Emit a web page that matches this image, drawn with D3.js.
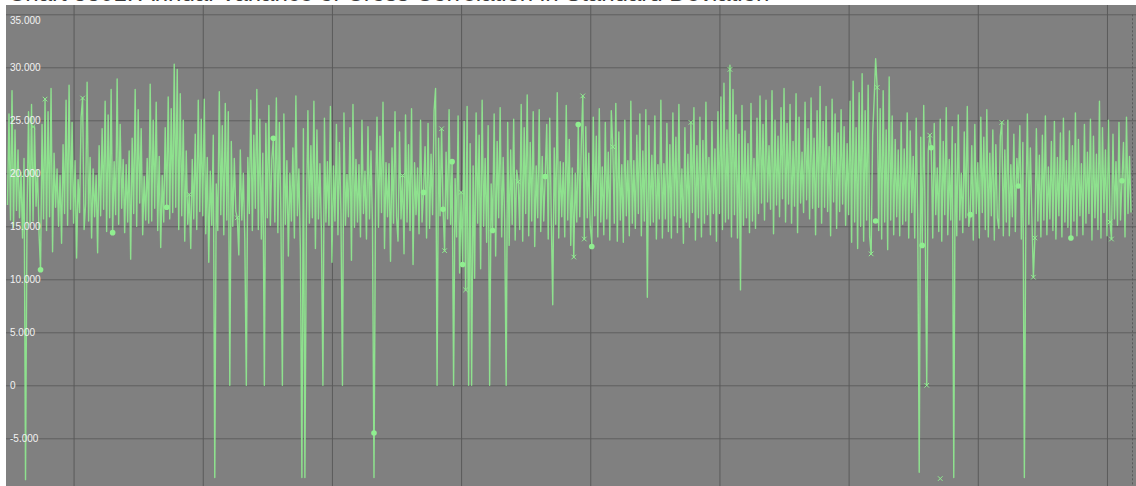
<!DOCTYPE html>
<html>
<head>
<meta charset="utf-8">
<script src="https://cdn.jsdelivr.net/npm/d3@7"></script>
<style>
  html, body { margin: 0; padding: 0; background: #fff; overflow: hidden; }
  svg { display: block; font-family: "Liberation Sans", Arial, sans-serif; }
</style>
</head>
<body>
<svg id="chart" width="1136" height="486"></svg>
<script>
// Series values, in thousands (one entry per sample)
const seriesK = [
  17.0, 25.6, 15.6, 27.8, 14.9, 24.1, 16.5, 22.2, 15.8, 20.1, 13.9, 21.4, -8.9, 16.1, 25.8, 15.2, 26.5, 15.5, 24.4, 16.9,
  20.3, 14.3, 10.9, 24.6, 15.7, 27.0, 14.6, 25.8, 15.9, 28.0, 12.6, 21.9, 16.8, 20.4, 15.0, 19.8, 13.4, 22.7, 16.2, 26.9,
  15.1, 28.3, 16.6, 24.8, 15.3, 21.2, 12.0, 19.4, 16.3, 25.3, 27.1, 14.7, 17.1, 28.6, 15.5, 21.5, 13.9, 20.4, 15.9, 19.8,
  12.5, 22.6, 16.0, 24.2, 16.6, 26.8, 14.5, 25.5, 15.8, 27.9, 14.4, 21.1, 16.1, 28.9, 15.2, 24.6, 16.7, 21.3, 14.4, 20.8,
  15.4, 22.1, 11.9, 23.3, 16.2, 27.9, 15.0, 26.0, 17.2, 24.2, 14.2, 19.7, 15.6, 21.4, 15.3, 28.4, 15.5, 25.0, 16.7, 26.7,
  14.6, 21.6, 13.0, 19.8, 15.4, 24.3, 16.8, 27.2, 15.7, 26.1, 16.3, 30.3, 16.8, 29.8, 14.7, 27.5, 16.0, 25.0, 13.6, 22.1,
  15.2, 18.0, 12.9, 21.3, 15.7, 23.7, 14.7, 26.9, 16.4, 25.1, 16.0, 27.0, 14.3, 21.5, 11.6, 20.2, 15.1, 23.6, -8.7, 19.0,
  14.6, 27.7, 16.1, 24.5, 14.2, 26.6, 15.6, 25.8, 0, 23.0, 15.0, 21.4, 16.4, 15.8, 12.3, 22.2, 15.6, 20.0, 13.7, 0,
  21.5, 16.2, 26.9, 14.6, 23.6, 16.7, 27.9, 14.7, 25.1, 13.8, 21.9, 0, 24.7, 15.8, 26.4, 15.1, 21.3, 23.3, 15.4, 27.1,
  14.4, 24.8, 16.3, 0, 25.6, 15.2, 21.2, 12.2, 20.0, 15.5, 22.4, 13.9, 27.3, 16.0, 20.4, 12.7, -8.7, 24.2, -8.7, 15.6,
  25.9, 15.3, 22.6, 15.8, 26.8, 12.9, 24.1, 15.7, 20.9, 14.5, 0, 25.2, 15.4, 21.1, 15.1, 26.3, 11.6, 20.7, 15.5, 24.6,
  14.2, 22.9, 16.2, 0, 25.7, 15.1, 19.9, 15.9, 24.3, 11.8, 26.5, 14.9, 21.3, 15.4, 20.8, 14.0, 25.0, 16.2, 20.2, 13.8,
  24.4, 15.7, 22.1, 15.1, -8.7, 17.0, 25.3, 14.9, 23.5, 16.3, 26.7, 12.9, 21.0, 15.9, 20.9, 11.7, 22.4, 15.3, 25.8, 15.9,
  13.6, 23.9, 15.7, 19.8, 12.4, 25.5, 15.4, 22.7, 14.6, 26.1, 11.4, 21.0, 16.1, 20.5, 14.3, 25.0, 15.4, 18.2, 22.5, 13.9,
  24.7, 14.8, 21.8, 16.1, 25.9, 28.0, 0, 23.3, 16.0, 24.2, 16.6, 12.7, 22.0, 15.7, 26.0, 15.2, 21.1, 0, 19.5, 14.0,
  25.4, 10.6, 18.2, 11.4, 24.9, 9.0, 26.3, 0, 22.8, 0, 20.7, 10.1, 25.7, 15.3, 23.6, 11.0, 26.9, 15.0, 21.4, 13.5,
  24.5, 0, 19.0, 14.6, 25.6, 12.2, 23.0, 15.8, 26.2, 14.0, 21.5, 15.6, 0, 24.8, 13.2, 22.2, 15.2, 25.1, 13.7, 20.3,
  19.2, 14.7, 26.5, 13.6, 24.3, 16.2, 27.4, 14.1, 22.9, 15.5, 25.8, 13.1, 20.7, 15.8, 26.0, 14.5, 21.6, 15.5, 19.7, 24.6,
  13.8, 25.2, 16.1, 7.6, 22.4, 15.2, 27.6, 13.9, 21.1, 15.9, 21.0, 14.0, 26.4, 15.6, 23.2, 13.2, 20.5, 12.1, 20.0, 15.4,
  24.6, 15.9, 22.6, 27.3, 13.8, 24.4, 15.8, 21.9, 15.0, 13.1, 25.3, 16.0, 23.5, 14.0, 26.1, 15.4, 20.6, 14.2, 24.8, 15.7,
  22.0, 13.7, 25.9, 22.5, 15.3, 26.6, 13.6, 23.9, 15.6, 20.8, 13.5, 25.0, 16.0, 21.2, 14.1, 26.8, 15.3, 21.2, 14.8, 23.6,
  16.2, 25.6, 14.1, 22.1, 15.5, 26.0, 8.3, 24.5, 15.1, 21.7, 15.4, 25.4, 13.8, 20.8, 15.7, 26.9, 13.9, 20.9, 15.7, 24.7,
  14.5, 22.7, 13.9, 25.7, 16.0, 23.4, 14.4, 26.5, 15.8, 20.4, 13.4, 24.3, 15.4, 21.8, 14.9, 24.8, 16.3, 26.2, 13.7, 22.6,
  15.8, 25.3, 14.0, 23.1, 15.3, 26.7, 16.1, 21.5, 14.2, 24.9, 16.2, 22.3, 13.6, 25.8, 16.2, 27.2, 14.7, 28.5, 15.4, 24.1,
  15.7, 30.2, 14.0, 27.9, 16.1, 25.5, 13.9, 23.7, 9.0, 26.4, 15.1, 24.0, 15.8, 22.8, 14.4, 26.6, 15.5, 21.4, 14.8, 25.2,
  16.2, 27.3, 17.2, 24.6, 15.6, 26.9, 17.3, 22.6, 16.6, 27.8, 14.3, 25.0, 17.0, 23.5, 15.9, 26.2, 17.6, 28.0, 15.4, 24.7,
  17.1, 26.5, 15.3, 23.0, 16.9, 27.5, 14.4, 25.3, 17.2, 22.0, 16.3, 26.7, 17.5, 24.2, 15.7, 27.1, 16.7, 23.3, 14.2, 25.9,
  16.8, 28.2, 15.3, 24.9, 16.8, 26.3, 16.4, 22.5, 14.1, 27.0, 17.3, 25.6, 14.8, 23.8, 16.4, 26.0, 17.1, 24.4, 15.1, 22.8,
  16.1, 26.8, 13.5, 28.7, 15.4, 24.3, 12.9, 27.6, 15.0, 29.4, 13.6, 25.9, 15.6, 28.3, 14.0, 12.4, 23.6, 27.0, 30.8, 28.1,
  14.6, 26.1, 13.8, 27.8, 15.4, 24.1, 12.8, 29.1, 15.6, 25.4, 14.2, 23.2, 15.9, 22.2, 14.1, 24.8, 15.2, 22.3, 15.5, 25.7,
  13.9, 24.0, 16.3, 21.6, 13.9, 25.2, 15.7, -8.2, 23.4, 13.2, 26.4, 14.9, 0, 22.1, 23.6, 22.4, 13.9, 24.7, 16.1, 20.5,
  14.5, 25.1, 13.6, 23.0, 16.1, 26.2, 14.2, 21.3, 15.6, 24.4, -8.7, 22.8, 14.1, 25.5, 15.6, 20.0, 14.4, 23.9, 15.8, 26.3,
  15.0, 16.1, 22.6, 13.7, 24.6, 16.2, 21.0, 13.9, 25.3, 16.3, 23.4, 14.7, 26.0, 14.0, 21.9, 16.0, 24.1, 13.7, 22.7, 15.8,
  14.8, 23.5, 24.8, 14.1, 22.2, 15.4, 25.0, 14.1, 20.8, 15.9, 23.7, 14.5, 21.4, 18.8, 24.5, 13.8, 22.9, -8.7, 16.1, 25.6,
  15.2, 22.4, 15.9, 10.2, 13.9, 24.2, 15.5, 21.7, 14.0, 23.6, 15.6, 25.4, 14.2, 20.6, 15.7, 23.0, 14.6, 24.9, 13.8, 21.5,
  16.0, 23.8, 14.0, 25.2, 15.4, 21.2, 14.9, 24.0, 13.9, 22.6, 15.5, 25.7, 14.1, 23.2, 16.0, 20.9, 14.2, 24.6, 15.3, 22.0,
  16.2, 25.1, 13.7, 23.5, 15.8, 21.8, 14.7, 26.8, 13.9, 24.3, 16.3, 22.2, 14.1, 25.0, 15.4, 13.8, 23.7, 15.7, 21.1, 15.1,
  24.8, 15.6, 19.3, 22.9, 14.0, 25.3, 16.2, 21.6, 16.3
];

// Highlighted samples: [sample index, value in thousands]
const circleMarks = [
  [22, 10.9], [70, 14.4], [106, 16.8], [177, 23.3], [244, -4.5], [277, 18.2], [290, 16.6],
  [296, 21.1], [303, 11.4], [323, 14.6], [358, 19.7], [380, 24.6], [389, 13.1], [578, 15.5],
  [609, 13.2], [615, 22.4], [641, 16.1], [673, 18.8], [708, 13.9], [742, 19.3]
];
const crossMarks = [
  [17, 24.4], [25, 27.0], [50, 27.1], [121, 18.0], [153, 15.8], [263, 19.8], [289, 24.2],
  [291, 12.7], [302, 18.2], [305, 9.0], [340, 19.2], [377, 12.1], [383, 27.3], [384, 13.8],
  [403, 22.5], [455, 24.8], [481, 29.8], [575, 12.4], [579, 28.1], [612, 0], [614, 23.6],
  [621, -8.8], [662, 24.8], [683, 10.2], [684, 13.9], [734, 15.4], [735, 13.8]
];

// Axis ticks
const yTicks = [-10000, -5000, 0, 5000, 10000, 15000, 20000, 25000, 30000, 35000];
const xTicks = [44, 130, 216, 302, 388, 474, 560, 646, 732];

const titleText = "Chart 3301: Annual Variance of Cross Correlation in Standard Deviation";

const values = seriesK.map(v => v * 1000);

const plot = { left: 6, top: 5, right: 1136, bottom: 486 };

const svg = d3.select("#chart");

const x = d3.scaleLinear().domain([0, values.length - 1]).range([7.5, 1131]);
const y = d3.scaleLinear().domain([-10000, 35000]).range([491.3, 14.3]);

const fmt = d3.formatLocale({ decimal: ",", thousands: ".", grouping: [3], currency: ["", ""], minus: "-" }).format(",");

// Title, sitting above the plot panel
svg.append("text")
  .attr("x", 8).attr("y", 0.5)
  .attr("font-size", 24)
  .attr("fill", "#3a3a3a")
  .text(titleText);

// Plot panel
svg.append("rect")
  .attr("x", plot.left).attr("y", plot.top)
  .attr("width", plot.right - plot.left).attr("height", plot.bottom - plot.top)
  .attr("fill", "#808080");

// Horizontal grid
svg.append("g")
  .attr("transform", `translate(${plot.left},0)`)
  .call(d3.axisRight(y).tickValues(yTicks).tickSize(plot.right - plot.left).tickFormat(""))
  .call(g => g.select(".domain").remove())
  .call(g => g.selectAll("line").attr("stroke", "#5f5f5f").attr("stroke-width", 1));

// Vertical grid
svg.append("g")
  .attr("transform", `translate(0,${plot.top})`)
  .call(d3.axisBottom(x).tickValues(xTicks).tickSize(plot.bottom - plot.top).tickFormat(""))
  .call(g => g.select(".domain").remove())
  .call(g => g.selectAll("line").attr("stroke", "#5a5a5a").attr("stroke-width", 1));

// Dotted right edge
svg.append("line")
  .attr("x1", 1132.5).attr("x2", 1132.5)
  .attr("y1", y(35000)).attr("y2", plot.bottom)
  .attr("stroke", "#5a5a5a").attr("stroke-dasharray", "2,2");

// Series line
const line = d3.line().x((d, i) => x(i)).y(d => y(d));
svg.append("path")
  .datum(values)
  .attr("fill", "none")
  .attr("stroke", "#90ee90")
  .attr("stroke-opacity", 0.88)
  .attr("stroke-width", 1.4)
  .attr("stroke-linejoin", "round")
  .attr("d", line);

// Circle markers
svg.append("g").selectAll("circle")
  .data(circleMarks)
  .join("circle")
  .attr("cx", d => x(d[0]))
  .attr("cy", d => y(d[1] * 1000))
  .attr("r", 2.8)
  .attr("fill", "#90ee90");

// Cross markers
const cs = 2.3;
svg.append("g").selectAll("path")
  .data(crossMarks)
  .join("path")
  .attr("transform", d => `translate(${x(d[0])},${y(d[1] * 1000)})`)
  .attr("d", `M${-cs},${-cs}L${cs},${cs}M${-cs},${cs}L${cs},${-cs}`)
  .attr("stroke", "#90ee90")
  .attr("stroke-width", 1)
  .attr("fill", "none");

// Value labels inside the panel
const labels = svg.append("g")
  .attr("transform", `translate(${plot.left + 1},0)`)
  .call(d3.axisRight(y).tickValues(yTicks).tickSize(0).tickPadding(3).tickFormat(fmt));
labels.select(".domain").remove();
labels.selectAll("text")
  .attr("fill", "#f2f2f2")
  .attr("font-size", 10)
  .attr("font-family", "\"Liberation Sans\", Arial, sans-serif")
  .attr("dy", d => d === 35000 ? "0.95em" : "0.32em");
</script>
</body>
</html>
